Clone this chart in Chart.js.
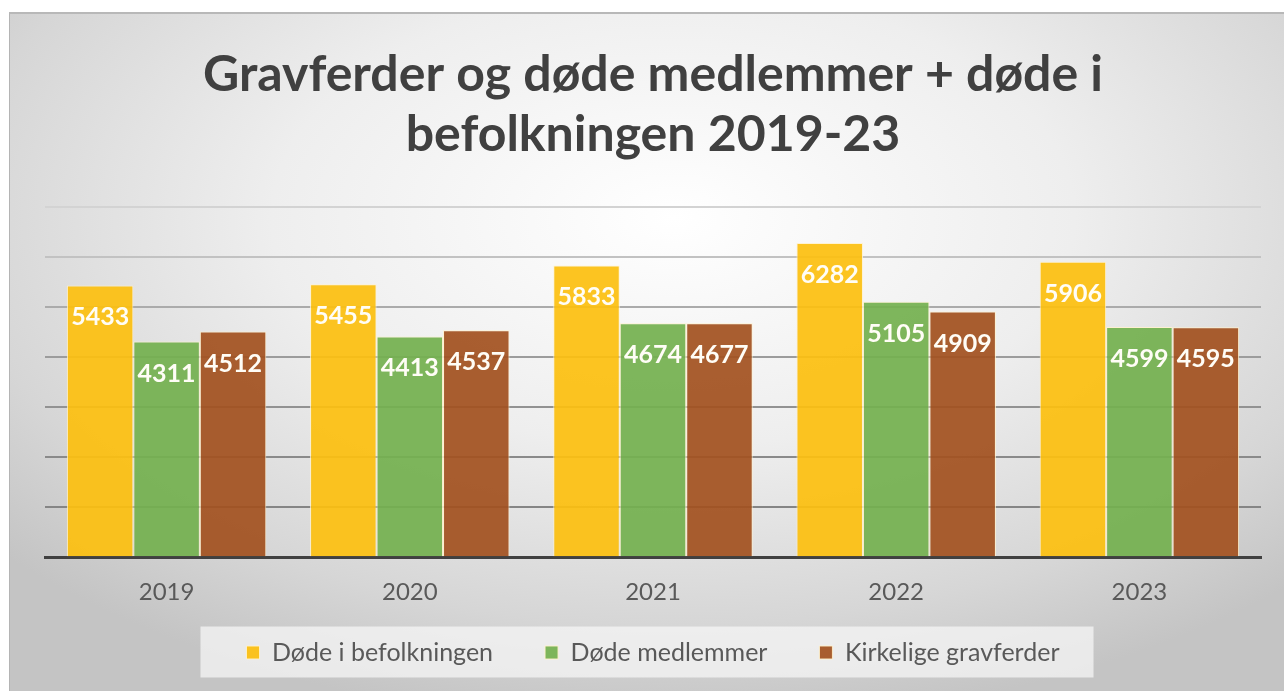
<!DOCTYPE html>
<html>
<head>
<meta charset="utf-8">
<script src="https://cdn.jsdelivr.net/npm/chart.js@4.4.1/dist/chart.umd.min.js"></script>
<style>
  html, body { margin: 0; padding: 0; background: #fff; overflow: hidden; }
  #frame {
    position: absolute; left: 9px; top: 12px; width: 1275px; height: 679px;
    border-left: 1px solid #b4b4b4; border-top: 2px solid #b8b8b8;
    background: radial-gradient(ellipse 70% 75% at 52% 30%, #ffffff 0%, #eeeeee 45%, #d6d6d6 80%, #c4c4c4 100%);
  }
  #wrap { position: absolute; left: 0; top: 0; width: 1275px; height: 679px; }
</style>
</head>
<body>
<div id="frame"><div id="wrap"><canvas id="chart"></canvas></div></div>
<script>
const years = ["2019", "2020", "2021", "2022", "2023"];
const dodeBefolkning = [5433, 5455, 5833, 6282, 5906];
const dodeMedlemmer = [4311, 4413, 4674, 5105, 4599];
const kirkeligeGravferder = [4512, 4537, 4677, 4909, 4595];
const seriesNames = ["Døde i befolkningen", "Døde medlemmer", "Kirkelige gravferder"];

// Grå rutenett, mørkere nederst
const gridShade = v => {
  if (v === 0) return "rgba(0,0,0,0)";
  const shades = {1000:"#858585",2000:"#8a8a8a",3000:"#929292",4000:"#9c9c9c",5000:"#ababab",6000:"#c2c2c2",7000:"#d3d3d3"};
  return shades[v] || "#aaa";
};

// Verdier inne i toppen av søylene
const barLabels = {
  id: "barLabels",
  afterDatasetsDraw(chart) {
    const c = chart.ctx;
    c.save();
    c.font = "bold 25px Lato";
    c.fillStyle = "#fffdf6";
    c.textAlign = "center";
    c.textBaseline = "middle";
    chart.data.datasets.forEach((ds, i) => {
      chart.getDatasetMeta(i).data.forEach((bar, j) => {
        c.fillText(String(ds.data[j]), bar.x, bar.y + 32);
      });
    });
    c.restore();
  }
};

// Flytt forklaringen opp mot årstallene
const legendShift = 32;
const moveLegend = {
  id: "moveLegend",
  afterLayout(chart) {
    chart.legend.top -= legendShift;
    chart.legend.bottom -= legendShift;
  }
};

// Lys boks bak forklaringen
const legendBox = {
  id: "legendBox",
  beforeDraw(chart) {
    const lg = chart.legend;
    if (!lg || !lg.legendHitBoxes.length) return;
    const hb = lg.legendHitBoxes;
    const left = hb[0].left - 46;
    const last = hb[hb.length - 1];
    const right = last.left + last.width + 34;
    const midY = hb[0].top + hb[0].height / 2;
    const c = chart.ctx;
    c.save();
    c.fillStyle = "rgba(245,245,245,0.75)";
    c.fillRect(left, midY - 26, right - left, 51);
    c.restore();
  }
};

new Chart(document.getElementById("chart"), {
  type: "bar",
  data: {
    labels: years,
    datasets: [
      {label: seriesNames[0], data: dodeBefolkning, backgroundColor: "rgba(252,191,16,0.93)"},
      {label: seriesNames[1], data: dodeMedlemmer, backgroundColor: "rgba(116,176,80,0.93)"},
      {label: seriesNames[2], data: kirkeligeGravferder, backgroundColor: "rgba(163,82,32,0.93)"}
    ].map(d => Object.assign(d, {borderColor: "rgba(255,242,205,0.9)", borderWidth: 1, categoryPercentage: 0.82, barPercentage: 1.0}))
  },
  options: {
    responsive: true,
    maintainAspectRatio: false,
    animation: false,
    layout: {padding: {left: 35, right: 24, top: 31, bottom: -14}},
    scales: {
      x: {
        grid: {display: false},
        border: {display: true, color: "#404040", width: 3},
        ticks: {color: "#595959", font: {family: "Lato", size: 24}, padding: 13}
      },
      y: {
        min: 0, max: 7000,
        ticks: {display: false, stepSize: 1000},
        border: {display: false},
        grid: {drawTicks: false, lineWidth: 2, color: ctx => gridShade(ctx.tick.value)}
      }
    },
    plugins: {
      title: {
        display: true,
        text: ["Gravferder og døde medlemmer + døde i", "befolkningen 2019-23"],
        color: "#404040",
        font: {family: "Lato", size: 50, weight: "bold", lineHeight: 1.2},
        padding: {top: 0, bottom: 42}
      },
      legend: {
        position: "bottom",
        labels: {
          color: "#595959",
          font: {family: "Lato", size: 25},
          boxWidth: 13, boxHeight: 13,
          padding: 52
        }
      },
      tooltip: {enabled: false}
    }
  },
  plugins: [moveLegend, barLabels, legendBox]
});
</script>
</body>
</html>
